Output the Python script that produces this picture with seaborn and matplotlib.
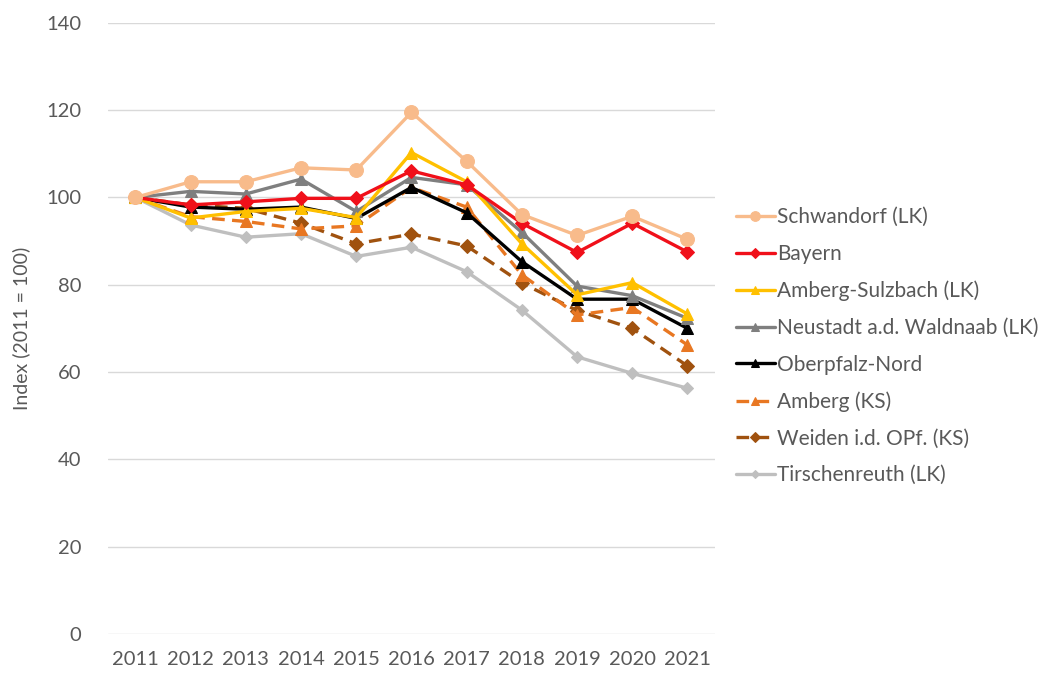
import numpy as np
import pandas as pd
import seaborn as sns
import matplotlib.pyplot as plt

years = list(range(2011, 2022))

schwandorf = [100, 103.6, 103.6, 106.8, 106.3, 119.5, 108.3, 96.1, 91.3, 95.7, 90.4]
bayern = [100, 98.3, 99.0, 99.8, 99.8, 106.1, 102.9, 94.1, 87.4, 94.1, 87.5]
amberg_sulzbach = [100, 95.3, 96.8, 97.5, 95.4, 110.3, 103.6, 89.4, 77.7, 80.5, 73.3]
neustadt = [100, 101.4, 100.8, 104.2, 96.8, 104.6, 102.9, 92.0, 79.7, 77.5, 72.3]
oberpfalz_nord = [100, 97.8, 97.3, 97.8, 95.2, 102.3, 96.5, 85.3, 76.7, 76.7, 70.0]
amberg_ks = [100, 95.6, 94.5, 92.8, 93.5, 102.3, 97.8, 82.3, 73.1, 74.8, 66.2]
weiden = [100, 98.3, 97.5, 94.1, 89.4, 91.6, 88.9, 80.4, 74.1, 70.0, 61.4]
tirschenreuth = [100, 93.7, 90.9, 91.7, 86.5, 88.6, 83.0, 74.2, 63.5, 59.7, 56.3]

names = ["Schwandorf (LK)", "Bayern", "Amberg-Sulzbach (LK)", "Neustadt a.d. Waldnaab (LK)",
         "Oberpfalz-Nord", "Amberg (KS)", "Weiden i.d. OPf. (KS)", "Tirschenreuth (LK)"]
values = [schwandorf, bayern, amberg_sulzbach, neustadt, oberpfalz_nord, amberg_ks, weiden, tirschenreuth]

# style per series: colour, marker, marker size, dashed?
styles = {
    "Schwandorf (LK)": ("#F8BB8B", "o", 10, False),
    "Bayern": ("#F0101A", "D", 7, False),
    "Amberg-Sulzbach (LK)": ("#FFC000", "^", 9, False),
    "Neustadt a.d. Waldnaab (LK)": ("#7F7F7F", "^", 9, False),
    "Oberpfalz-Nord": ("#000000", "^", 9, False),
    "Amberg (KS)": ("#E87722", "^", 9, True),
    "Weiden i.d. OPf. (KS)": ("#A0520F", "D", 7, True),
    "Tirschenreuth (LK)": ("#BFBFBF", "D", 6, False),
}

sns.set_theme(style="white")
plt.rcParams["font.family"] = ["Lato", "DejaVu Sans"]

fig = plt.figure(figsize=(10.47, 6.73), dpi=100)
ax = fig.add_axes([0.103, 0.058, 0.580, 0.908])

# draw in reverse so first legend entries sit on top
for name, vals in reversed(list(zip(names, values))):
    col, mk, ms, dashed = styles[name]
    df = pd.DataFrame({"year": years, "value": vals})
    sns.lineplot(data=df, x="year", y="value", ax=ax, color=col, marker=mk,
                 markersize=ms, markeredgecolor=col, linewidth=2.4,
                 linestyle=(0, (3.8, 2.2)) if dashed else "-", label=name)

ax.set_xlim(2010.5, 2021.5)
ax.set_ylim(0, 140)
ax.set_xticks(years)
ax.set_yticks(range(0, 141, 20))
ax.grid(axis="y", color="#D9D9D9", linewidth=1)
ax.grid(axis="x", visible=False)
for s in ax.spines.values():
    s.set_visible(False)
ax.tick_params(axis="both", length=0, labelsize=14.5, colors="#595959")
ax.tick_params(axis="y", pad=19)
ax.tick_params(axis="x", pad=12)
ax.set_xlabel("")
ax.set_ylabel("Index (2011 = 100)", fontsize=14, color="#595959", labelpad=12)

handles, labels = ax.get_legend_handles_labels()
order = [labels.index(n) for n in names]
ax.legend([handles[i] for i in order], [labels[i] for i in order],
          loc="center left", bbox_to_anchor=(0.703, 0.4855), bbox_transform=fig.transFigure,
          frameon=False, fontsize=15, labelcolor="#595959", handlelength=1.85,
          handletextpad=0.12, labelspacing=0.8, markerscale=0.7, borderpad=0,
          borderaxespad=0)

fig.savefig("out.png", dpi=100)
